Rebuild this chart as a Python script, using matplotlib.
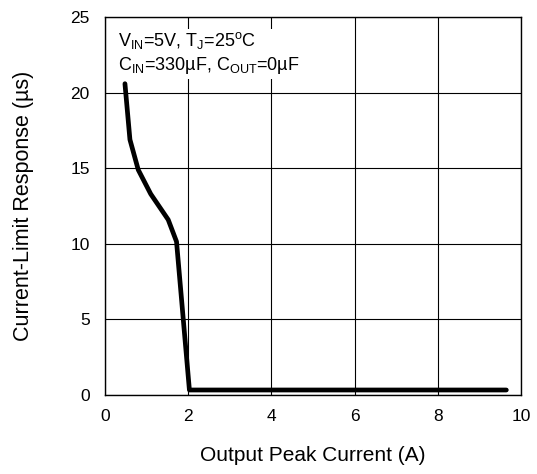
import numpy as np
import matplotlib
matplotlib.use('Agg')
import matplotlib.pyplot as plt

plt.rcParams['font.family'] = ['Liberation Sans', 'DejaVu Sans']
plt.rcParams['mathtext.fontset'] = 'custom'
plt.rcParams['mathtext.rm'] = 'Liberation Sans'
plt.rcParams['mathtext.it'] = 'Liberation Sans'

# curve
current = [0.48, 0.6, 0.8, 1.1, 1.52, 1.72, 2.03, 9.65]
response = [20.6, 16.9, 14.9, 13.3, 11.6, 10.15, 0.33, 0.33]

x_ticks = [0, 2, 4, 6, 8, 10]
y_ticks = [0, 5, 10, 15, 20, 25]

fig = plt.figure(figsize=(5.37, 4.74), dpi=100)
ax = fig.add_axes([0.1955, 0.1667, 0.7745, 0.797])

ax.plot(current, response, color='black', lw=3.4, solid_capstyle='round', solid_joinstyle='round')

ax.set_xlim(0, 10)
ax.set_ylim(0, 25)
ax.set_xticks(x_ticks)
ax.set_yticks(y_ticks)
ax.grid(True, color='black', lw=0.8)
ax.tick_params(length=0, labelsize=12.5)
ax.tick_params(axis='x', pad=10)
ax.tick_params(axis='y', pad=11)
for s in ax.spines.values():
    s.set_linewidth(1.0)

ax.set_xlabel('Output Peak Current (A)', fontsize=15, labelpad=16)
ax.set_ylabel('Current-Limit Response (µs)', fontsize=15.5, labelpad=26)

ax.text(0.032, 0.965, r'V$_{\mathrm{IN}}$=5V, T$_{\mathrm{J}}$=25$^{\mathrm{o}}$C' + '\n'
        + r'C$_{\mathrm{IN}}$=330µF, C$_{\mathrm{OUT}}$=0µF',
        transform=ax.transAxes, va='top', ha='left', fontsize=13, linespacing=1.25,
        bbox=dict(facecolor='white', edgecolor='none', pad=2))

fig.savefig('out.png', dpi=100)
